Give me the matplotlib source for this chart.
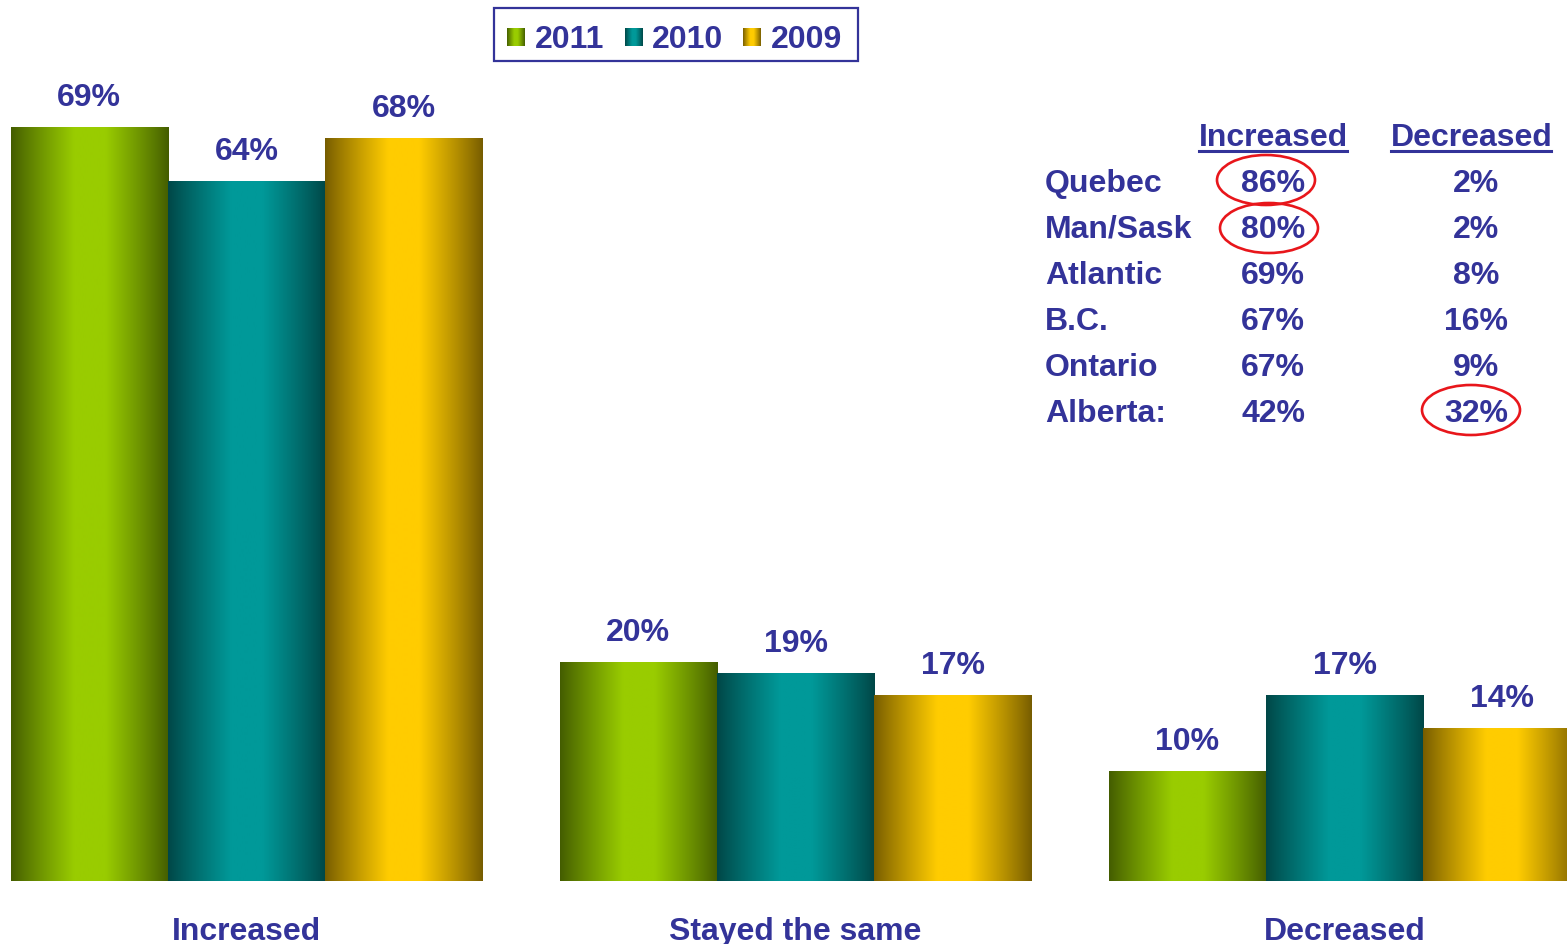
import numpy as np
import matplotlib
matplotlib.use("Agg")
import matplotlib.pyplot as plt
from matplotlib.patches import Ellipse, Rectangle
from matplotlib.lines import Line2D

# data
categories = ["Increased", "Stayed the same", "Decreased"]
years = ["2011", "2010", "2009"]
v2011 = [69, 20, 10]
v2010 = [64, 19, 17]
v2009 = [68, 17, 14]

regions = ["Quebec", "Man/Sask", "Atlantic", "B.C.", "Ontario", "Alberta:"]
reg_inc = ["86%", "80%", "69%", "67%", "67%", "42%"]
reg_dec = ["2%", "2%", "8%", "16%", "9%", "32%"]
circled = [(0, 0), (1, 0), (5, 1)]  # (row, col)

W, H = 1567, 945
NAVY = "#333399"
FS = 23
plt.rcParams["font.family"] = "Liberation Sans"

dark = ["#435c00", "#004646", "#765c00"]
bright = ["#99cc00", "#009999", "#ffcc00"]


def grad(d, b, n=256):
    d = np.array(matplotlib.colors.to_rgb(d))
    b = np.array(matplotlib.colors.to_rgb(b))
    x = np.linspace(0, 1, n)
    t = np.clip((1 - np.abs(x - 0.5) / 0.5) * 1.25, 0, 1) ** 0.9
    return (d[None, :] * (1 - t[:, None]) + b[None, :] * t[:, None])[None, :, :]


def px(x, y):
    return x / W, 1 - y / H


fig = plt.figure(figsize=(W / 100, H / 100), dpi=100)
ax = fig.add_axes([0, 0, 1, 1])
ax.axis("off")
xlim = (-0.449, 2.405)
ylim = (-5.8, 80.7)

x = np.arange(len(categories))
w = 0.2865
series = [v2011, v2010, v2009]
for i, vals in enumerate(series):
    bars = ax.bar(x + (i - 1) * w, vals, w, facecolor="none", edgecolor="none")
    g = grad(dark[i], bright[i])
    for b, v in zip(bars, vals):
        x0, y0 = b.get_x(), b.get_y()
        im = ax.imshow(g, extent=(x0, x0 + b.get_width(), y0, y0 + b.get_height()),
                       aspect="auto", interpolation="bilinear", zorder=2)
        im.set_clip_path(b)
        ax.annotate(f"{v}%", (x0 + b.get_width() / 2, v), xytext=(0, 30),
                    textcoords="offset pixels", ha="center", va="center",
                    fontsize=FS, fontweight="bold", color=NAVY)

for xi, c in zip(x, categories):
    ax.text(xi, -4.65, c, ha="center", va="center", fontsize=FS,
            fontweight="bold", color=NAVY)

ax.set_xlim(*xlim)
ax.set_ylim(*ylim)

# legend (manual, gradient swatches)
fig.patches.append(Rectangle(px(494, 62), 364 / W, 53 / H, transform=fig.transFigure,
                             fill=False, ec=NAVY, lw=1.6))
sw_x = [507, 625, 743]
tx_x = [535, 652, 771]
for i in range(3):
    sax = fig.add_axes([sw_x[i] / W, 1 - 47 / H, 18 / W, 18 / H])
    sax.imshow(grad(dark[i], bright[i]), aspect="auto", interpolation="bilinear")
    sax.axis("off")
    fig.text(*px(tx_x[i], 40), years[i], ha="left", va="center", fontsize=FS,
             fontweight="bold", color=NAVY)

# regional table
col_inc, col_dec = 1273, 1472
for cx, lbl, x0, x1 in [(col_inc, "Increased", 1199, 1347), (col_dec, "Decreased", 1391, 1551)]:
    fig.text(*px(cx, 138), lbl, ha="center", va="center", fontsize=FS,
             fontweight="bold", color=NAVY)
    fig.lines.append(Line2D([x0 / W, x1 / W], [1 - 152 / H] * 2, transform=fig.transFigure,
                            color=NAVY, lw=2.2))

for r, (name, a, d) in enumerate(zip(regions, reg_inc, reg_dec)):
    yy = 184 + r * 46
    fig.text(*px(1045, yy), name, ha="left", va="center", fontsize=FS,
             fontweight="bold", color=NAVY)
    fig.text(*px(col_inc, yy), a, ha="center", va="center", fontsize=FS,
             fontweight="bold", color=NAVY)
    fig.text(*px(col_dec + 4, yy), d, ha="center", va="center", fontsize=FS,
             fontweight="bold", color=NAVY)

ell = {(0, 0): (1266, 181), (1, 0): (1269, 229), (5, 1): (1471, 411)}
for r, c in circled:
    cx, cy = ell[(r, c)]
    fig.patches.append(Ellipse(px(cx, cy), 98 / W, 50 / H, transform=fig.transFigure,
                               fill=False, ec="#e8161b", lw=1.9))

plt.savefig("out.png", dpi=100)
